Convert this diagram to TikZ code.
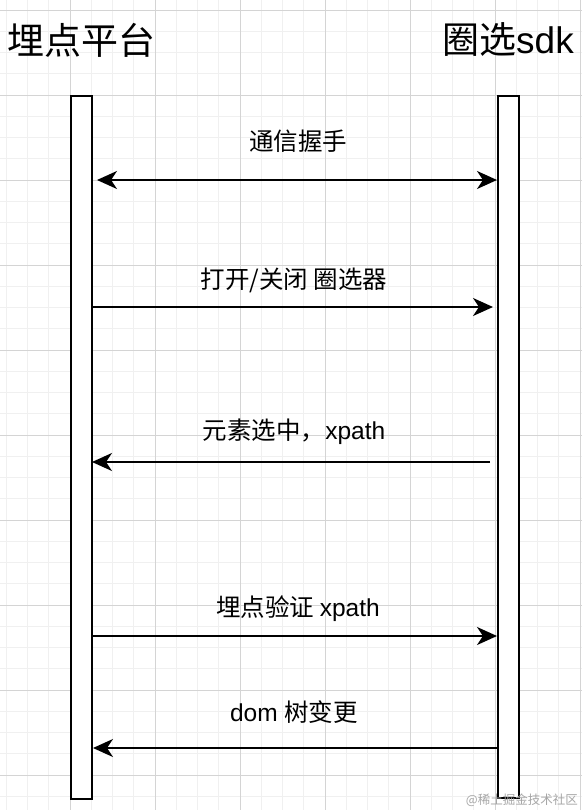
\documentclass[tikz,border=0pt]{standalone}
\usepackage{fontspec}
\setmainfont{Liberation Sans}
\newfontfamily\cjk{Noto Sans CJK SC}
\usetikzlibrary{arrows.meta}
\begin{document}
\begin{tikzpicture}[x=1pt,y=-1pt,
  lifeline/.style={draw=black,line width=2.4pt,fill=white,minimum width=21pt,inner sep=0pt,anchor=north west},
  tip/.tip={Stealth[length=20pt,width=18pt,inset=6pt]},
  msg/.style={line width=2pt,-tip},
  dmsg/.style={line width=2pt,tip-tip},
  lbl/.style={font=\fontsize{24.5}{28}\selectfont,inner sep=0pt},
  title/.style={font=\fontsize{37}{42}\selectfont,inner sep=0pt},
  wm/.style={font=\cjk\fontsize{12.5}{14}\selectfont,text=black!35,inner sep=0pt}]
\useasboundingbox (0,0) rectangle (582,810);
\fill[white] (0,0) rectangle (582,810);
% minor grid
\foreach \i in {0,...,27} {\draw[line width=0.8pt,black!6] ({6.25+21.25*\i},0) -- ({6.25+21.25*\i},810);}
\foreach \i in {0,...,38} {\draw[line width=0.8pt,black!6] (0,{10+21.25*\i}) -- (582,{10+21.25*\i});}
% major grid
\foreach \i in {0,...,7} {\draw[line width=0.9pt,black!17] ({70+85*(\i-1)},0) -- ({70+85*(\i-1)},810);}
\foreach \i in {0,...,9} {\draw[line width=0.9pt,black!17] (0,{10+85*\i}) -- (582,{10+85*\i});}
% titles
\node[title] (t1) at (81,40) {\cjk 埋点平台};
\node[title] (t2) at (508,40) {\cjk 圈选\fontspec{Liberation Sans}sdk};
% lifelines
\node[lifeline,minimum height=703pt] (L) at (70,95) {};
\node[lifeline,minimum height=702pt] (R) at (497,95) {};
% message end points
\coordinate (a1) at (97,180);  \coordinate (b1) at (497,180);
\coordinate (a2) at (91,307);  \coordinate (b2) at (493,307);
\coordinate (a3) at (92,462);  \coordinate (b3) at (490,462);
\coordinate (a4) at (93,636);  \coordinate (b4) at (497,636);
\coordinate (a5) at (93,748);  \coordinate (b5) at (497,748);
\draw[dmsg] (a1) -- (b1);
\draw[msg] (a2) -- (b2);
\draw[msg] (b3) -- (a3);
\draw[msg] (a4) -- (b4);
\draw[msg] (b5) -- (a5);
% labels
\node[lbl] (l1) at (298,141) {\cjk 通信握手};
\node[lbl] (l2) at (294,280) {\cjk 打开/关闭 圈选器};
\node[lbl] (l3) at (294,432) {\cjk 元素选中，\fontspec{Liberation Sans}xpath};
\node[lbl] (l4) at (298,609) {\cjk 埋点验证 \fontspec{Liberation Sans}xpath};
\node[lbl] (l5) at (294,712) {dom {\cjk 树变更}};
% watermark
\node[wm,anchor=east] (w) at (578,800) {@稀土掘金技术社区};
\end{tikzpicture}
\end{document}
